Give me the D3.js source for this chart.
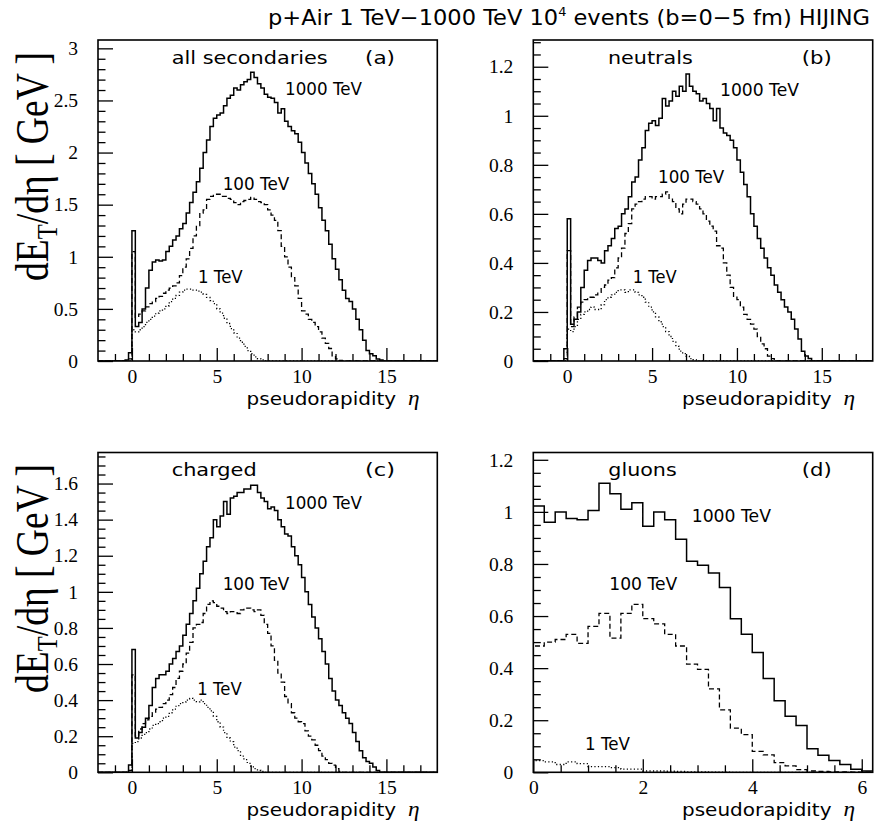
<!DOCTYPE html>
<html><head><meta charset="utf-8">
<script src="https://cdn.jsdelivr.net/npm/d3@7"></script>
<style>body{margin:0;background:#fff} svg{display:block}</style>
</head><body><svg id="c" width="874" height="831"></svg>
<script>
// ---------------- DATA ----------------
const binWidth = 0.2;
// panels (a),(b),(c): first bin starts at eta = -0.4 ; panel (d): first bin at eta = 0
const etaStartABC = -0.4;
const etaStartD = 0.0;

// (a) all secondaries
const all1000 = [0.01,0.08,1.25,0.33,0.37,0.5,0.7,0.87,0.95,0.97,0.96,0.97,1.05,1.1,1.16,1.2,1.27,1.32,1.42,1.52,1.62,1.72,1.85,2.0,2.12,2.25,2.33,2.36,2.38,2.45,2.52,2.55,2.62,2.6,2.65,2.68,2.7,2.77,2.72,2.66,2.62,2.56,2.53,2.52,2.48,2.38,2.42,2.3,2.25,2.21,2.18,2.1,2.0,1.9,1.8,1.7,1.6,1.47,1.35,1.25,1.12,0.98,0.88,0.78,0.68,0.6,0.57,0.5,0.4,0.3,0.2,0.1,0.07,0.05,0.02,0.01];
const all100  = [0,0.02,1.05,0.42,0.45,0.48,0.52,0.55,0.57,0.6,0.62,0.65,0.68,0.7,0.72,0.75,0.82,0.9,0.98,1.08,1.2,1.3,1.42,1.45,1.55,1.58,1.6,1.6,1.58,1.58,1.56,1.55,1.52,1.5,1.53,1.54,1.55,1.57,1.55,1.53,1.52,1.5,1.45,1.4,1.35,1.25,1.1,1.0,0.9,0.8,0.72,0.6,0.48,0.45,0.4,0.37,0.33,0.28,0.22,0.17,0.12,0.05,0.02,0.005];
const all1    = [0,0,0.3,0.28,0.3,0.33,0.37,0.4,0.43,0.46,0.48,0.5,0.53,0.57,0.6,0.63,0.66,0.68,0.69,0.69,0.68,0.67,0.66,0.64,0.61,0.58,0.55,0.5,0.46,0.41,0.36,0.31,0.27,0.22,0.18,0.14,0.1,0.07,0.04,0.02,0.01];

// (b) neutrals
const neu1000 = [0,0.05,0.58,0.15,0.17,0.2,0.3,0.37,0.41,0.42,0.42,0.41,0.4,0.45,0.47,0.5,0.54,0.55,0.6,0.62,0.67,0.73,0.75,0.82,0.87,0.94,0.97,0.98,0.96,0.99,1.07,1.04,1.06,1.1,1.08,1.12,1.1,1.17,1.12,1.1,1.09,1.06,1.07,1.05,1.03,0.98,1.03,0.95,0.93,0.92,0.9,0.87,0.82,0.77,0.72,0.67,0.6,0.55,0.5,0.46,0.42,0.38,0.35,0.31,0.28,0.25,0.22,0.2,0.17,0.13,0.09,0.04,0.02,0.01];
const neu100  = [0,0.01,0.45,0.14,0.18,0.22,0.24,0.25,0.26,0.26,0.27,0.28,0.3,0.31,0.33,0.34,0.38,0.42,0.46,0.52,0.56,0.62,0.64,0.65,0.66,0.67,0.67,0.66,0.67,0.67,0.68,0.69,0.66,0.65,0.62,0.6,0.64,0.66,0.66,0.65,0.64,0.62,0.6,0.57,0.55,0.53,0.47,0.46,0.4,0.35,0.3,0.26,0.25,0.22,0.19,0.17,0.15,0.13,0.1,0.07,0.05,0.02,0.01];
const neu1    = [0,0,0.13,0.12,0.14,0.17,0.19,0.2,0.21,0.22,0.21,0.21,0.23,0.25,0.26,0.27,0.28,0.29,0.29,0.28,0.29,0.29,0.28,0.27,0.26,0.24,0.22,0.2,0.18,0.16,0.14,0.12,0.1,0.08,0.06,0.04,0.03,0.02,0.01,0.005];

// (c) charged
const chg1000 = [0,0.04,0.68,0.19,0.22,0.25,0.3,0.37,0.47,0.52,0.54,0.54,0.56,0.6,0.63,0.67,0.7,0.76,0.82,0.88,0.95,1.02,1.1,1.17,1.25,1.3,1.4,1.36,1.42,1.5,1.43,1.52,1.53,1.55,1.55,1.57,1.57,1.59,1.59,1.55,1.52,1.5,1.46,1.47,1.45,1.4,1.36,1.32,1.31,1.25,1.2,1.15,1.08,1.0,0.93,0.86,0.8,0.74,0.67,0.6,0.52,0.45,0.4,0.37,0.33,0.3,0.27,0.22,0.17,0.12,0.08,0.06,0.05,0.03,0.01];
const chg100  = [0,0.01,0.54,0.2,0.24,0.27,0.29,0.31,0.33,0.35,0.36,0.38,0.4,0.43,0.47,0.52,0.56,0.6,0.66,0.72,0.8,0.82,0.83,0.88,0.93,0.95,0.94,0.92,0.91,0.89,0.88,0.89,0.89,0.88,0.9,0.91,0.91,0.9,0.89,0.9,0.87,0.82,0.77,0.7,0.62,0.55,0.5,0.42,0.38,0.33,0.3,0.28,0.27,0.23,0.2,0.18,0.15,0.12,0.09,0.07,0.05,0.04,0.02,0.005];
const chg1    = [0,0,0.16,0.17,0.19,0.21,0.22,0.24,0.26,0.27,0.28,0.3,0.31,0.33,0.35,0.37,0.38,0.39,0.4,0.41,0.4,0.39,0.4,0.38,0.36,0.34,0.31,0.28,0.25,0.22,0.19,0.17,0.14,0.12,0.09,0.07,0.05,0.03,0.02,0.01,0.005];

// (d) gluons
const glu1000 = [1.023,0.96,1.0,0.975,0.97,1.005,1.11,1.07,1.01,1.035,0.945,1.0,0.97,0.895,0.81,0.795,0.765,0.71,0.59,0.53,0.46,0.36,0.275,0.215,0.18,0.09,0.065,0.045,0.03,0.012,0.005];
const glu100  = [0.485,0.5,0.51,0.53,0.495,0.56,0.61,0.515,0.61,0.645,0.59,0.57,0.53,0.485,0.415,0.395,0.32,0.24,0.17,0.145,0.08,0.067,0.037,0.025,0.01,0.005,0.003,0.002,0.002,0.001,0.001];
const glu1    = [0.045,0.04,0.03,0.04,0.033,0.022,0.022,0.018,0.012,0.012,0.005,0.005,0.004,0.003,0.002,0.002,0.001,0.001];

// ticks
const xMajorEta = [0,5,10,15];
const xMajorEtaLabels = ["0","5","10","15"];
const xMajorGlu = [0,2,4,6];
const xMajorGluLabels = ["0","2","4","6"];
const yMajorA = [0,0.5,1,1.5,2,2.5,3];
const yMajorALabels = ["0","0.5","1","1.5","2","2.5","3"];
const yMajorB = [0,0.2,0.4,0.6,0.8,1,1.2];
const yMajorBLabels = ["0","0.2","0.4","0.6","0.8","1","1.2"];
const yMajorC = [0,0.2,0.4,0.6,0.8,1,1.2,1.4,1.6];
const yMajorCLabels = ["0","0.2","0.4","0.6","0.8","1","1.2","1.4","1.6"];
const yMajorD = [0,0.2,0.4,0.6,0.8,1,1.2];
const yMajorDLabels = ["0","0.2","0.4","0.6","0.8","1","1.2"];

const energyLabels = ["1000 TeV","100 TeV","1 TeV"];
const panelTitles = ["all secondaries","neutrals","charged","gluons"];
const panelTags = ["(a)","(b)","(c)","(d)"];

// ---------------- DRAW ----------------
const svg = d3.select("#c");
const SANS = "'DejaVu Sans', sans-serif";
const SERIF = "'Liberation Serif', 'Times New Roman', serif";
const styles = [
  {dash:null, w:1.5},
  {dash:"5,3", w:1.3},
  {dash:"1.2,2.3", w:1.3}
];

const panels = [
  {left:98, top:40, right:437.3, bottom:361, xDomain:[-2,18], yDomain:[0,3.08], etaStart:etaStartABC,
   series:[all1000,all100,all1], xMajor:xMajorEta, xLab:xMajorEtaLabels, xMinorStep:1,
   yMajor:yMajorA, yLab:yMajorALabels, yMinorStep:0.1,
   title:0, lab:[{dx:73.7,dy:24,w:156},{dx:267,dy:24,w:30}],
   en:[{dx:187,dy:55,w:77},{dx:124.7,dy:150,w:66.6},{dx:100,dy:243,w:44.7}]},
  {left:533.3, top:40, right:872.7, bottom:361, xDomain:[-2,18], yDomain:[0,1.309], etaStart:etaStartABC,
   series:[neu1000,neu100,neu1], xMajor:xMajorEta, xLab:xMajorEtaLabels, xMinorStep:1,
   yMajor:yMajorB, yLab:yMajorBLabels, yMinorStep:0.05,
   title:1, lab:[{dx:74.7,dy:24,w:84.7},{dx:268.4,dy:24,w:30}],
   en:[{dx:186.7,dy:56,w:79},{dx:124.7,dy:142.7,w:66.3},{dx:99.4,dy:243.3,w:44}]},
  {left:98, top:452.5, right:437.3, bottom:772.3, xDomain:[-2,18], yDomain:[0,1.772], etaStart:etaStartABC,
   series:[chg1000,chg100,chg1], xMajor:xMajorEta, xLab:xMajorEtaLabels, xMinorStep:1,
   yMajor:yMajorC, yLab:yMajorCLabels, yMinorStep:0.05,
   title:2, lab:[{dx:73.7,dy:23.5,w:85},{dx:267,dy:23.5,w:30}],
   en:[{dx:187,dy:56,w:77},{dx:124.7,dy:137.5,w:66.6},{dx:99.3,dy:242.5,w:44.4}]},
  {left:533.3, top:452.5, right:872.7, bottom:772.3, xDomain:[0,6.2], yDomain:[0,1.228], etaStart:etaStartD,
   series:[glu1000,glu100,glu1], xMajor:xMajorGlu, xLab:xMajorGluLabels, xMinorStep:0.5,
   yMajor:yMajorD, yLab:yMajorDLabels, yMinorStep:0.05,
   title:3, lab:[{dx:75,dy:23.5,w:68.4},{dx:268.4,dy:23.5,w:30}],
   en:[{dx:158.4,dy:69.2,w:79.3},{dx:76,dy:137.5,w:68},{dx:51.7,dy:297.5,w:45}]}
];

function minorTicks(d0, d1, step, majors) {
  const out = [];
  const n = Math.round((d1 - d0) / step);
  for (let i = 0; i <= n; i++) {
    const v = +(Math.ceil(d0/step)*step + i*step).toFixed(6);
    if (v <= d0 + 1e-9 || v >= d1 - 1e-9) continue;
    if (majors.some(m => Math.abs(m - v) < 1e-9)) continue;
    out.push(v);
  }
  return out;
}

panels.forEach((p, pi) => {
  const g = svg.append("g");
  const x = d3.scaleLinear().domain(p.xDomain).range([p.left, p.right]);
  const y = d3.scaleLinear().domain(p.yDomain).range([p.bottom, p.top]);

  const clipId = "clip" + pi;
  svg.append("clipPath").attr("id", clipId).append("rect")
    .attr("x", p.left).attr("y", p.top).attr("width", p.right - p.left).attr("height", p.bottom - p.top);

  // histograms
  const line = d3.line().x(d => x(d[0])).y(d => y(d[1])).curve(d3.curveStepAfter);
  const hg = g.append("g").attr("clip-path", `url(#${clipId})`);
  p.series.forEach((vals, si) => {
    const pts = [[p.xDomain[0], 0]];
    vals.forEach((v, i) => pts.push([p.etaStart + i * binWidth, v]));
    pts.push([p.etaStart + vals.length * binWidth, 0]);
    pts.push([p.xDomain[1], 0]);
    hg.append("path").datum(pts).attr("d", line)
      .attr("fill", "none").attr("stroke", "#000")
      .attr("stroke-width", styles[si].w)
      .attr("stroke-dasharray", styles[si].dash)
      .attr("stroke-linejoin", "miter");
  });

  // x axis ticks (inside)
  const xMinor = minorTicks(p.xDomain[0], p.xDomain[1], p.xMinorStep, p.xMajor);
  const axMinX = g.append("g").attr("transform", `translate(0,${p.bottom})`)
    .call(d3.axisBottom(x).tickValues(xMinor).tickSize(-7).tickFormat(""));
  const axMajX = g.append("g").attr("transform", `translate(0,${p.bottom})`)
    .call(d3.axisBottom(x).tickValues(p.xMajor).tickSizeInner(-13).tickSizeOuter(0).tickPadding(8)
      .tickFormat((d, i) => p.xLab[i]));
  // y axis ticks (inside)
  const yMinor = minorTicks(p.yDomain[0], p.yDomain[1] + 1e-6, p.yMinorStep, p.yMajor);
  const axMinY = g.append("g").attr("transform", `translate(${p.left},0)`)
    .call(d3.axisLeft(y).tickValues(yMinor).tickSize(-7.5).tickFormat(""));
  const axMajY = g.append("g").attr("transform", `translate(${p.left},0)`)
    .call(d3.axisLeft(y).tickValues(p.yMajor).tickSizeInner(-15).tickSizeOuter(0).tickPadding(20)
      .tickFormat((d, i) => p.yLab[i]));
  [axMinX, axMajX, axMinY, axMajY].forEach(a => {
    a.select(".domain").remove();
    a.selectAll(".tick line").attr("stroke", "#000").attr("stroke-width", 1.3);
    a.selectAll(".tick text").attr("font-family", SERIF).attr("font-size", 19.5).attr("fill", "#000");
  });

  // frame
  g.append("rect").attr("x", p.left).attr("y", p.top)
    .attr("width", p.right - p.left).attr("height", p.bottom - p.top)
    .attr("fill", "none").attr("stroke", "#000").attr("stroke-width", 1.6);

  // panel texts
  const txt = (s, o) => g.append("text").attr("x", p.left + o.dx).attr("y", p.top + o.dy)
    .attr("font-family", SANS).attr("font-size", 17).attr("fill", "#000")
    .attr("textLength", o.w).attr("lengthAdjust", "spacingAndGlyphs").text(s);
  txt(panelTitles[p.title], p.lab[0]);
  txt(panelTags[p.title], p.lab[1]);
  energyLabels.forEach((s, i) => txt(s, p.en[i]));

  // x axis title
  const xt = g.append("text").attr("x", p.right - 17.7).attr("y", p.bottom + 44)
    .attr("text-anchor", "end").attr("font-family", SANS).attr("font-size", 18).attr("fill", "#000")
    .attr("textLength", 173).attr("lengthAdjust", "spacingAndGlyphs");
  xt.append("tspan").text("pseudorapidity ");
  xt.append("tspan").attr("font-family", SERIF).attr("font-style", "italic").attr("font-size", 21).attr("dx", 5).text("η");
});

// y axis titles
[166.5, 578.5].forEach(cy => {
  const t = svg.append("text").attr("transform", `translate(48,${cy}) rotate(-90)`)
    .attr("text-anchor", "middle").attr("font-family", SERIF).attr("font-size", 46).attr("fill", "#000")
    .attr("textLength", 229).attr("lengthAdjust", "spacingAndGlyphs");
  t.append("tspan").text("dE");
  t.append("tspan").attr("font-size", 30).attr("dy", 9).text("T");
  t.append("tspan").attr("dy", -9).text("/dη [ GeV ]");
});

// main title
const title = svg.append("text").attr("x", 268).attr("y", 25)
  .attr("font-family", SANS).attr("font-size", 21).attr("fill", "#000")
  .attr("textLength", 602).attr("lengthAdjust", "spacingAndGlyphs");
title.append("tspan").text("p+Air 1 TeV\u22121000 TeV 10");
title.append("tspan").attr("font-size", 12).attr("dy", -9).text("4");
title.append("tspan").attr("dy", 9).text(" events (b=0\u22125 fm) HIJING");
</script></body></html>
